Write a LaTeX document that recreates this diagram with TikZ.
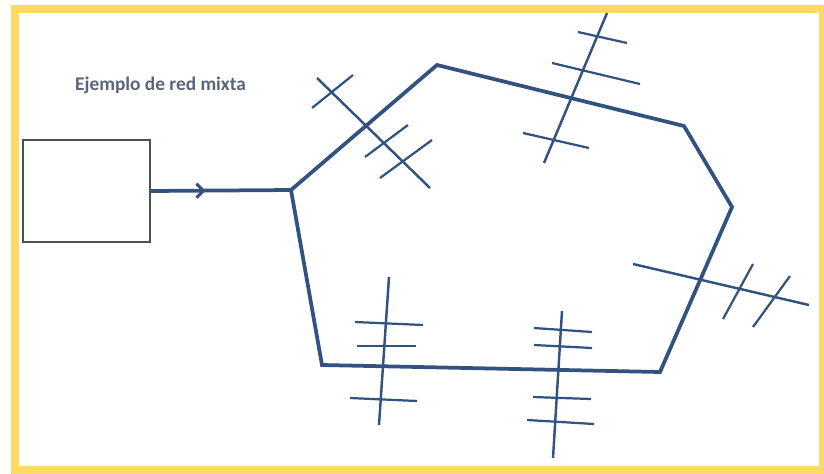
\documentclass[tikz,border=0pt]{standalone}
\usepackage{fontspec}
\setmainfont{Carlito}
\usetikzlibrary{arrows.meta, decorations.markings}
\definecolor{netblue}{RGB}{50,82,128}
\definecolor{framegold}{RGB}{255,217,102}
\definecolor{boxgray}{RGB}{72,80,94}
\definecolor{titlegray}{RGB}{88,102,120}

\begin{document}
\begin{tikzpicture}[x=0.03cm, y=-0.03cm,
    ring/.style={draw=netblue, line width=3.2pt, line join=miter},
    tap/.style={draw=netblue, line width=2.1pt},
    bar/.style={draw=netblue, line width=1.9pt},
    host/.style={rectangle, draw=boxgray, line width=1.8pt, fill=white, minimum width=3.81cm, minimum height=3.06cm, inner sep=0pt},
    title/.style={font=\fontsize{16.5}{19}\selectfont\bfseries, text=titlegray, anchor=west, inner sep=0pt}]
  \useasboundingbox (0,0) rectangle (824,473);
  % marco
  \draw[framegold, line width=8*0.03cm] (15,9) rectangle (823,470);

  \node[title] (tt) at (75,85) {Ejemplo de red mixta};
  \node[host] (pc) at (86.5,191) {};

  % anillo
  \coordinate (a) at (291,190);
  \coordinate (b) at (437,65);
  \coordinate (c) at (684,126);
  \coordinate (d) at (732,207);
  \coordinate (e) at (660,372);
  \coordinate (f) at (322,365);
  \draw[ring] (a) -- (b) -- (c) -- (d) -- (e) -- (f) -- cycle;

  \draw[ring, postaction={decorate}, decoration={markings,
      mark=at position 0.39 with {\arrow[netblue]{Straight Barb[length=6pt, width=12pt, line width=2.6pt]}}}]
    (pc.east) -- (a);

  % ramas
  \draw[tap] (317,78) -- (430,188);
  \draw[bar] (312,108) -- (353,75);
  \draw[bar] (365,157) -- (408,125);
  \draw[bar] (380,178) -- (432,140);

  \draw[tap] (607,13) -- (544,163);
  \draw[bar] (578,32) -- (627,43);
  \draw[bar] (552,63) -- (640,84);
  \draw[bar] (523,133) -- (589,148);

  \draw[tap] (633,264) -- (809,305);
  \draw[bar] (753,264) -- (723,319);
  \draw[bar] (790,276) -- (753,327);

  \draw[tap] (389,277) -- (379,425);
  \draw[bar] (355,322) -- (423,325);
  \draw[bar] (357,346) -- (416,346);
  \draw[bar] (350,398) -- (417,401);

  \draw[tap] (562,311) -- (553,458);
  \foreach \ya/\yb/\xa/\xb in {328/332/534/592, 345/348/534/592, 397/399/533/591, 420/424/527/594}
    \draw[bar] (\xa,\ya) -- (\xb,\yb);
\end{tikzpicture}
\end{document}
